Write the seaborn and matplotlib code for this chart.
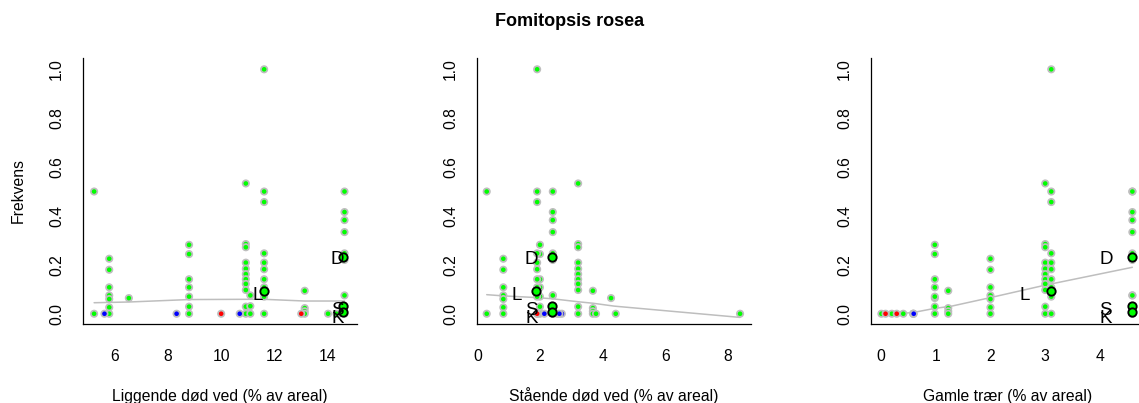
import numpy as np
import pandas as pd
import matplotlib
matplotlib.use("Agg")
import matplotlib.pyplot as plt
import seaborn as sns

# ---------------- data ----------------
title = "Fomitopsis rosea"
xlabels = ["Liggende død ved (% av areal)",
           "Stående død ved (% av areal)",
           "Gamle trær (% av areal)"]
ylabel = "Frekvens"

x_ticks_ligg = [6, 8, 10, 12, 14]
x_ticks_staa = [0, 2, 4, 6, 8]
x_ticks_gaml = [0, 1, 2, 3, 4]
y_ticks = [0.0, 0.2, 0.4, 0.6, 0.8, 1.0]

# sites (green points): x value of each explanatory variable
sites = ["A", "B", "C", "D", "E", "E2", "F", "G", "H", "I", "J", "M"]
x_liggende = [5.21, 5.78, 6.52, 8.79, 10.93, 11.10, 11.62, 13.15, 14.03, 14.65, 14.45, 14.35]
x_staaende = [0.30, 0.83, 4.27, 2.00, 3.22, 2.41, 1.91, 3.69, 4.42, 2.41, 8.39, 3.79]
x_gamle    = [4.59, 2.00, 0.985, 0.985, 3.00, 4.59, 3.11, 1.23, 0.20, 4.59, 0.01, 0.41]

freq_A = [0.5, 0.0]
freq_B = [0.225, 0.18, 0.108, 0.075, 0.06, 0.026, 0.0]
freq_C = [0.064]
freq_D = [0.282, 0.244, 0.141, 0.108, 0.07, 0.029, 0.0]
freq_E = [0.533, 0.285, 0.272, 0.209, 0.184, 0.162, 0.141, 0.122, 0.097, 0.029, 0.0]
freq_E2 = [0.075, 0.031, 0.0]
freq_F = [1.0, 0.5, 0.457, 0.247, 0.209, 0.182, 0.141, 0.108, 0.07, 0.0]
freq_G = [0.094, 0.023, 0.01, 0.0]
freq_H = [0.0]
freq_I = [0.5, 0.416, 0.383, 0.334, 0.247, 0.22, 0.075, 0.029, 0.0]
freq_J = [0.0]
freq_M = [0.0]
site_freqs = [freq_A, freq_B, freq_C, freq_D, freq_E, freq_E2, freq_F,
              freq_G, freq_H, freq_I, freq_J, freq_M]

# red and blue sites (all zero frequency)
red_liggende = [10.0, 13.02]
red_staaende = [1.91, 2.55]
red_gamle = [0.086, 0.29]
red_freq = [0.0, 0.0]
blue_liggende = [5.6, 8.32, 10.7]
blue_staaende = [2.14, 2.7, 2.62]
blue_gamle = [0.59, 0.59, 0.60]
blue_freq = [0.0, 0.0, 0.0]

# summary circles per category
cat_labels = ["D", "L", "S", "K"]
cat_freq = [0.233, 0.094, 0.031, 0.007]
cat_liggende = [14.61, 11.60, 14.58, 14.58]
cat_staaende = [2.39, 1.88, 2.39, 2.39]
cat_gamle = [4.58, 3.10, 4.58, 4.58]
# letter positions
lab_y = [0.22, 0.075, 0.015, -0.019]
lab_liggende = [14.39, 11.37, 14.38, 14.38]
lab_staaende = [1.73, 1.25, 1.73, 1.73]
lab_gamle = [4.11, 2.63, 4.10, 4.10]

# smoothed trend lines
trend_ligg_x = [5.21, 6.52, 8.79, 10.93, 11.62, 13.15, 14.65]
trend_ligg_y = [0.045, 0.048, 0.058, 0.059, 0.059, 0.052, 0.052]
trend_staa_x = [0.30, 0.83, 1.91, 2.41, 3.22, 3.69, 4.38, 8.39]
trend_staa_y = [0.078, 0.073, 0.066, 0.061, 0.049, 0.043, 0.031, -0.015]
trend_gaml_x = [0.01, 0.41, 0.59, 0.985, 1.29, 2.0, 3.0, 3.11, 4.59]
trend_gaml_y = [0.0, 0.002, 0.005, 0.022, 0.031, 0.066, 0.117, 0.122, 0.19]

# ---------------- build tables ----------------
rows = []
for s, x1, x2, x3, fr in zip(sites, x_liggende, x_staaende, x_gamle, site_freqs):
    for f in fr:
        rows.append(dict(site=s, ligg=x1, staa=x2, gaml=x3, freq=f, grp="green"))
for x1, x2, x3, f in zip(red_liggende, red_staaende, red_gamle, red_freq):
    rows.append(dict(site="red", ligg=x1, staa=x2, gaml=x3, freq=f, grp="red"))
for x1, x2, x3, f in zip(blue_liggende, blue_staaende, blue_gamle, blue_freq):
    rows.append(dict(site="blue", ligg=x1, staa=x2, gaml=x3, freq=f, grp="blue"))
points = pd.DataFrame(rows)
cats = pd.DataFrame(dict(cat=cat_labels, freq=cat_freq, ligg=cat_liggende,
                         staa=cat_staaende, gaml=cat_gamle))

# ---------------- style ----------------
sns.set_style("white")
plt.rcParams["font.family"] = ["Liberation Sans", "DejaVu Sans"]
for k in ["text.color", "axes.labelcolor", "xtick.color", "ytick.color"]:
    plt.rcParams[k] = "black"

W, H = 1139, 403
fig = plt.figure(figsize=(W / 100, H / 100), dpi=100)

green = "#00FF00"
ring = "#BEBEBE"
palette = {"green": green, "red": "#FF0000", "blue": "#0000FF"}

panels = [
    dict(col="ligg", left=82.7, xlim=(4.78, 15.11), ticks=x_ticks_ligg,
         tx=trend_ligg_x, ty=trend_ligg_y, labx=lab_liggende),
    dict(col="staa", left=476.7, xlim=(-0.02, 8.73), ticks=x_ticks_staa,
         tx=trend_staa_x, ty=trend_staa_y, labx=lab_staaende),
    dict(col="gaml", left=870.7, xlim=(-0.185, 4.815), ticks=x_ticks_gaml,
         tx=trend_gaml_x, ty=trend_gaml_y, labx=lab_gamle),
]
ax_w = 274.0
top_px, bot_px = 58.3, 324.0

for i, p in enumerate(panels):
    ax = fig.add_axes([p["left"] / W, (H - bot_px) / H, ax_w / W, (bot_px - top_px) / H])
    ax.set_facecolor("white")
    sns.lineplot(x=p["tx"], y=p["ty"], ax=ax, color=ring, linewidth=1.1,
                 estimator=None, sort=False, zorder=1)
    sns.scatterplot(data=points, x=p["col"], y="freq", hue="grp", palette=palette,
                    ax=ax, s=21, edgecolor=ring, linewidth=1.25, legend=False,
                    zorder=2)
    sns.scatterplot(data=cats, x=p["col"], y="freq", ax=ax, s=36, color=green,
                    edgecolor="black", linewidth=1.35, legend=False, zorder=3)
    for lx, ly, lab in zip(p["labx"], lab_y, cat_labels):
        ax.text(lx, ly, lab, ha="center", va="center", fontsize=13.5,
                color="black", zorder=4)

    ax.set_xlim(*p["xlim"])
    ax.set_ylim(-0.042, 1.045)
    ax.set_xticks(p["ticks"])
    ax.set_xticklabels([str(t) for t in p["ticks"]])
    ax.set_yticks(y_ticks)
    ax.set_yticklabels([f"{t:.1f}" for t in y_ticks], rotation=90, va="center")
    for side in ["top", "right"]:
        ax.spines[side].set_visible(False)
    for side in ["left", "bottom"]:
        ax.spines[side].set_linewidth(0.9)
        ax.spines[side].set_color("black")
    ax.tick_params(axis="both", direction="out", length=6.5, width=0.9,
                   colors="black", labelsize=11.3)
    ax.tick_params(axis="x", pad=11.5)
    ax.tick_params(axis="y", pad=7)
    ax.set_xlabel(xlabels[i], fontsize=11.3, va="baseline", color="black")
    ax.xaxis.set_label_coords(0.5, -0.2887)
    ax.set_ylabel("")

fig.text(18.7 / W, 1 - 191.0 / H, ylabel, rotation=90, ha="center", va="center",
         fontsize=11.3, color="black")
fig.text(0.5, 1 - 21.5 / H, title, ha="center", va="center", fontsize=13,
         fontweight="bold", color="black")

fig.savefig("out.png", dpi=100, facecolor="white")
